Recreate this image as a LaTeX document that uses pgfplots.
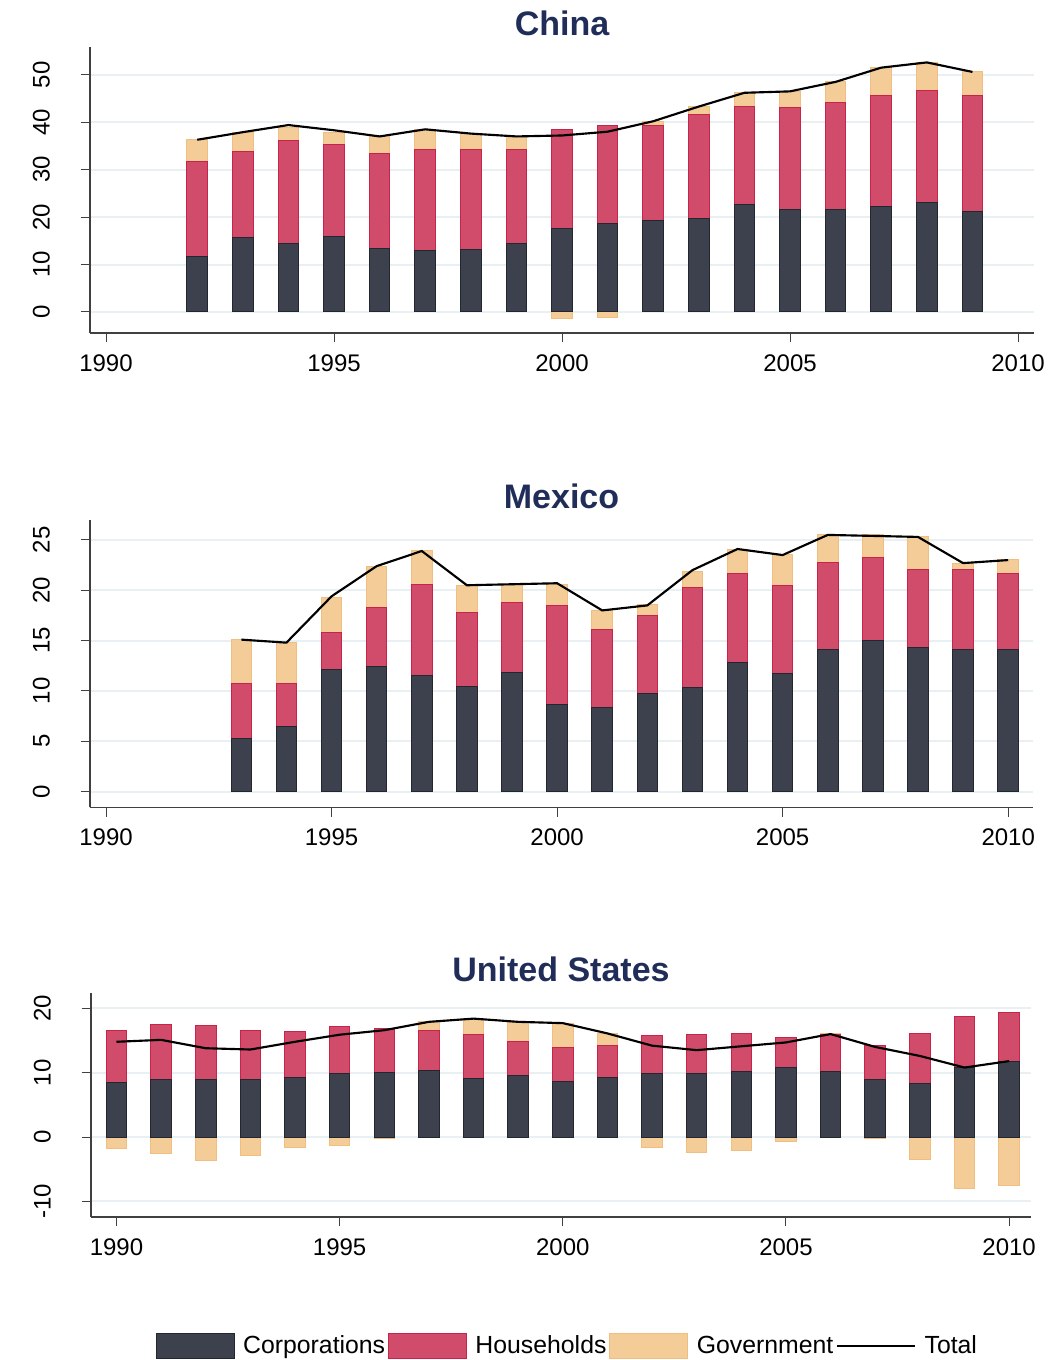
\documentclass[border=0pt]{standalone}
\usepackage{fontspec}
\setmainfont{Liberation Sans}
\usepackage{pgfplots}
\usepackage{pgfplotstable}
\pgfplotsset{compat=1.18}
\definecolor{corpc}{HTML}{3D414D}
\definecolor{corpd}{HTML}{23262F}
\definecolor{hhc}{HTML}{D14B6B}
\definecolor{hhd}{HTML}{C8244A}
\definecolor{govc}{HTML}{F3CC97}
\definecolor{govd}{HTML}{F0BE80}
\definecolor{gridc}{HTML}{E9F0F3}
\definecolor{titlec}{HTML}{1F2D58}

\pgfplotstableread{
year corp hh gov total
1992 11.6 20.2 4.6 36.3
1993 15.7 18.2 4.0 37.9
1994 14.5 21.7 2.7 39.4
1995 15.9 19.5 2.5 38.3
1996 13.3 20.0 3.8 37.0
1997 12.9 21.4 4.1 38.5
1998 13.1 21.2 3.3 37.6
1999 14.5 19.8 2.6 37.0
2000 17.7 20.8 -1.4 37.2
2001 18.7 20.5 -1.2 38.0
2002 19.2 20.2 0.8 40.2
2003 19.8 21.9 1.7 43.3
2004 22.6 20.8 2.8 46.2
2005 21.6 21.5 3.4 46.5
2006 21.6 22.6 4.3 48.5
2007 22.3 23.4 5.9 51.5
2008 23.0 23.6 6.0 52.6
2009 21.2 24.5 5.0 50.6
}\china

\pgfplotstableread{
year corp hh gov total
1993 5.26 5.44 4.4 15.1
1994 6.46 4.24 4.1 14.8
1995 12.1 3.7 3.5 19.4
1996 12.4 5.9 4.1 22.4
1997 11.5 9.1 3.4 23.9
1998 10.4 7.4 2.7 20.5
1999 11.8 7.0 1.8 20.6
2000 8.7 9.8 2.1 20.7
2001 8.4 7.7 1.9 18.0
2002 9.7 7.8 1.1 18.5
2003 10.3 10.0 1.6 22.0
2004 12.8 8.9 2.4 24.1
2005 11.7 8.8 3.1 23.5
2006 14.1 8.7 2.7 25.5
2007 15.0 8.3 2.2 25.4
2008 14.3 7.8 3.2 25.3
2009 14.1 8.0 0.6 22.7
2010 14.1 7.6 1.4 23.0
}\mexico

\pgfplotstableread{
year corp hh gov total
1990 8.4 8.2 -1.8 14.8
1991 8.9 8.6 -2.5 15.1
1992 8.9 8.5 -3.7 13.8
1993 8.9 7.7 -2.8 13.6
1994 9.2 7.2 -1.7 14.8
1995 9.8 7.3 -1.3 15.9
1996 10.0 6.8 -0.2 16.6
1997 10.3 6.3 1.4 17.9
1998 9.1 6.9 2.4 18.4
1999 9.5 5.4 2.9 17.9
2000 8.7 5.2 3.8 17.7
2001 9.2 5.0 1.9 16.1
2002 9.8 6.0 -1.6 14.2
2003 9.8 6.1 -2.4 13.5
2004 10.2 5.9 -2.1 14.1
2005 10.8 4.6 -0.7 14.7
2006 10.2 5.8 0.1 16.0
2007 8.9 5.3 -0.3 14.0
2008 8.3 7.8 -3.5 12.6
2009 10.8 7.9 -8.0 10.8
2010 11.7 7.7 -7.6 11.8
}\usa

\pgfplotsset{
  panel/.style={
    scale only axis,
    anchor=north west,
    axis lines*=left,
    tick align=outside,
    major tick length=7pt,
    tick style={black!75, line width=0.75pt},
    axis line style={black!75, line width=0.9pt},
    ymajorgrids,
    major grid style={gridc, line width=1.5pt},
    xtick={1990,1995,2000,2005,2010},
    /pgf/number format/1000 sep={},
    /pgf/number format/assume math mode=true,
    tick label style={font=\fontsize{18}{20}\selectfont},
    xticklabel style={anchor=north, inner sep=0pt},
    yticklabel style={rotate=90, anchor=south, inner sep=0pt},
    xticklabel shift=8.75pt,
    yticklabel shift=23pt,
    title style={at={(0.5,1)}, anchor=base, yshift=2.7pt,
      font=\fontsize{25.5}{28}\selectfont\bfseries, text=titlec, inner sep=0pt},
  },
  barc/.style={ybar, bar width=15.4pt, bar shift=0pt, line width=0.75pt, forget plot},
}

\newcommand{\stackbars}[1]{%
  \addplot[barc, fill=govc, draw=govd] table[x=year, y expr={min(\thisrow{gov},0)}] {#1};
  \addplot[barc, fill=govc, draw=govd] table[x=year, y expr={\thisrow{corp}+\thisrow{hh}+max(\thisrow{gov},0)}] {#1};
  \addplot[barc, fill=hhc, draw=hhd] table[x=year, y expr={\thisrow{corp}+\thisrow{hh}}] {#1};
  \addplot[barc, fill=corpc, draw=corpd] table[x=year, y=corp] {#1};
  \addplot[black, line width=1.6pt, no marks, sharp plot, forget plot] table[x=year, y=total] {#1};
}

\begin{document}
\begin{tikzpicture}
\path[use as bounding box] (0pt,0pt) rectangle (788.25pt,-1020pt);

\begin{axis}[panel, at={(67.5pt,-35.25pt)}, width=708pt, height=214.5pt,
  xmin=1989.649, xmax=2010.35, ymin=-4.43, ymax=55.85,
  ytick={0,10,20,30,40,50}, title={China}]
\stackbars{\china}
\end{axis}

\begin{axis}[panel, at={(67.5pt,-390pt)}, width=707.25pt, height=215.6pt,
  xmin=1989.645, xmax=2010.55, ymin=-1.57, ymax=26.98,
  ytick={0,5,10,15,20,25}, title={Mexico}]
\stackbars{\mexico}
\end{axis}

\begin{axis}[panel, at={(68.25pt,-744.75pt)}, width=705pt, height=168pt,
  xmin=1989.429, xmax=2010.49, ymin=-12.43, ymax=22.38,
  ytick={-10,0,10,20}, title={United States},
  legend style={at={(axis description cs:0.507,-0.575)}, anchor=center,
    draw=none, fill=none, legend columns=4,
    font=\fontsize{18.6}{20}\selectfont, inner sep=0pt,
    /tikz/every odd column/.append style={column sep=4.5pt},
    /tikz/every even column/.append style={column sep=0pt}},
  legend image code/.code={\draw[#1] (0pt,-9.4pt) rectangle (58.5pt,9.4pt);}]
\stackbars{\usa}
\addlegendimage{fill=corpc, draw=corpd, line width=0.75pt}
\addlegendentry{Corporations}
\addlegendimage{fill=hhc, draw=hhd, line width=0.75pt}
\addlegendentry{Households}
\addlegendimage{fill=govc, draw=govd, line width=0.75pt}
\addlegendentry{Government}
\addlegendimage{legend image code/.code={\draw[black, line width=1.5pt] (0pt,0pt) -- (58.5pt,0pt);}}
\addlegendentry{Total}
\end{axis}
\end{tikzpicture}
\end{document}
